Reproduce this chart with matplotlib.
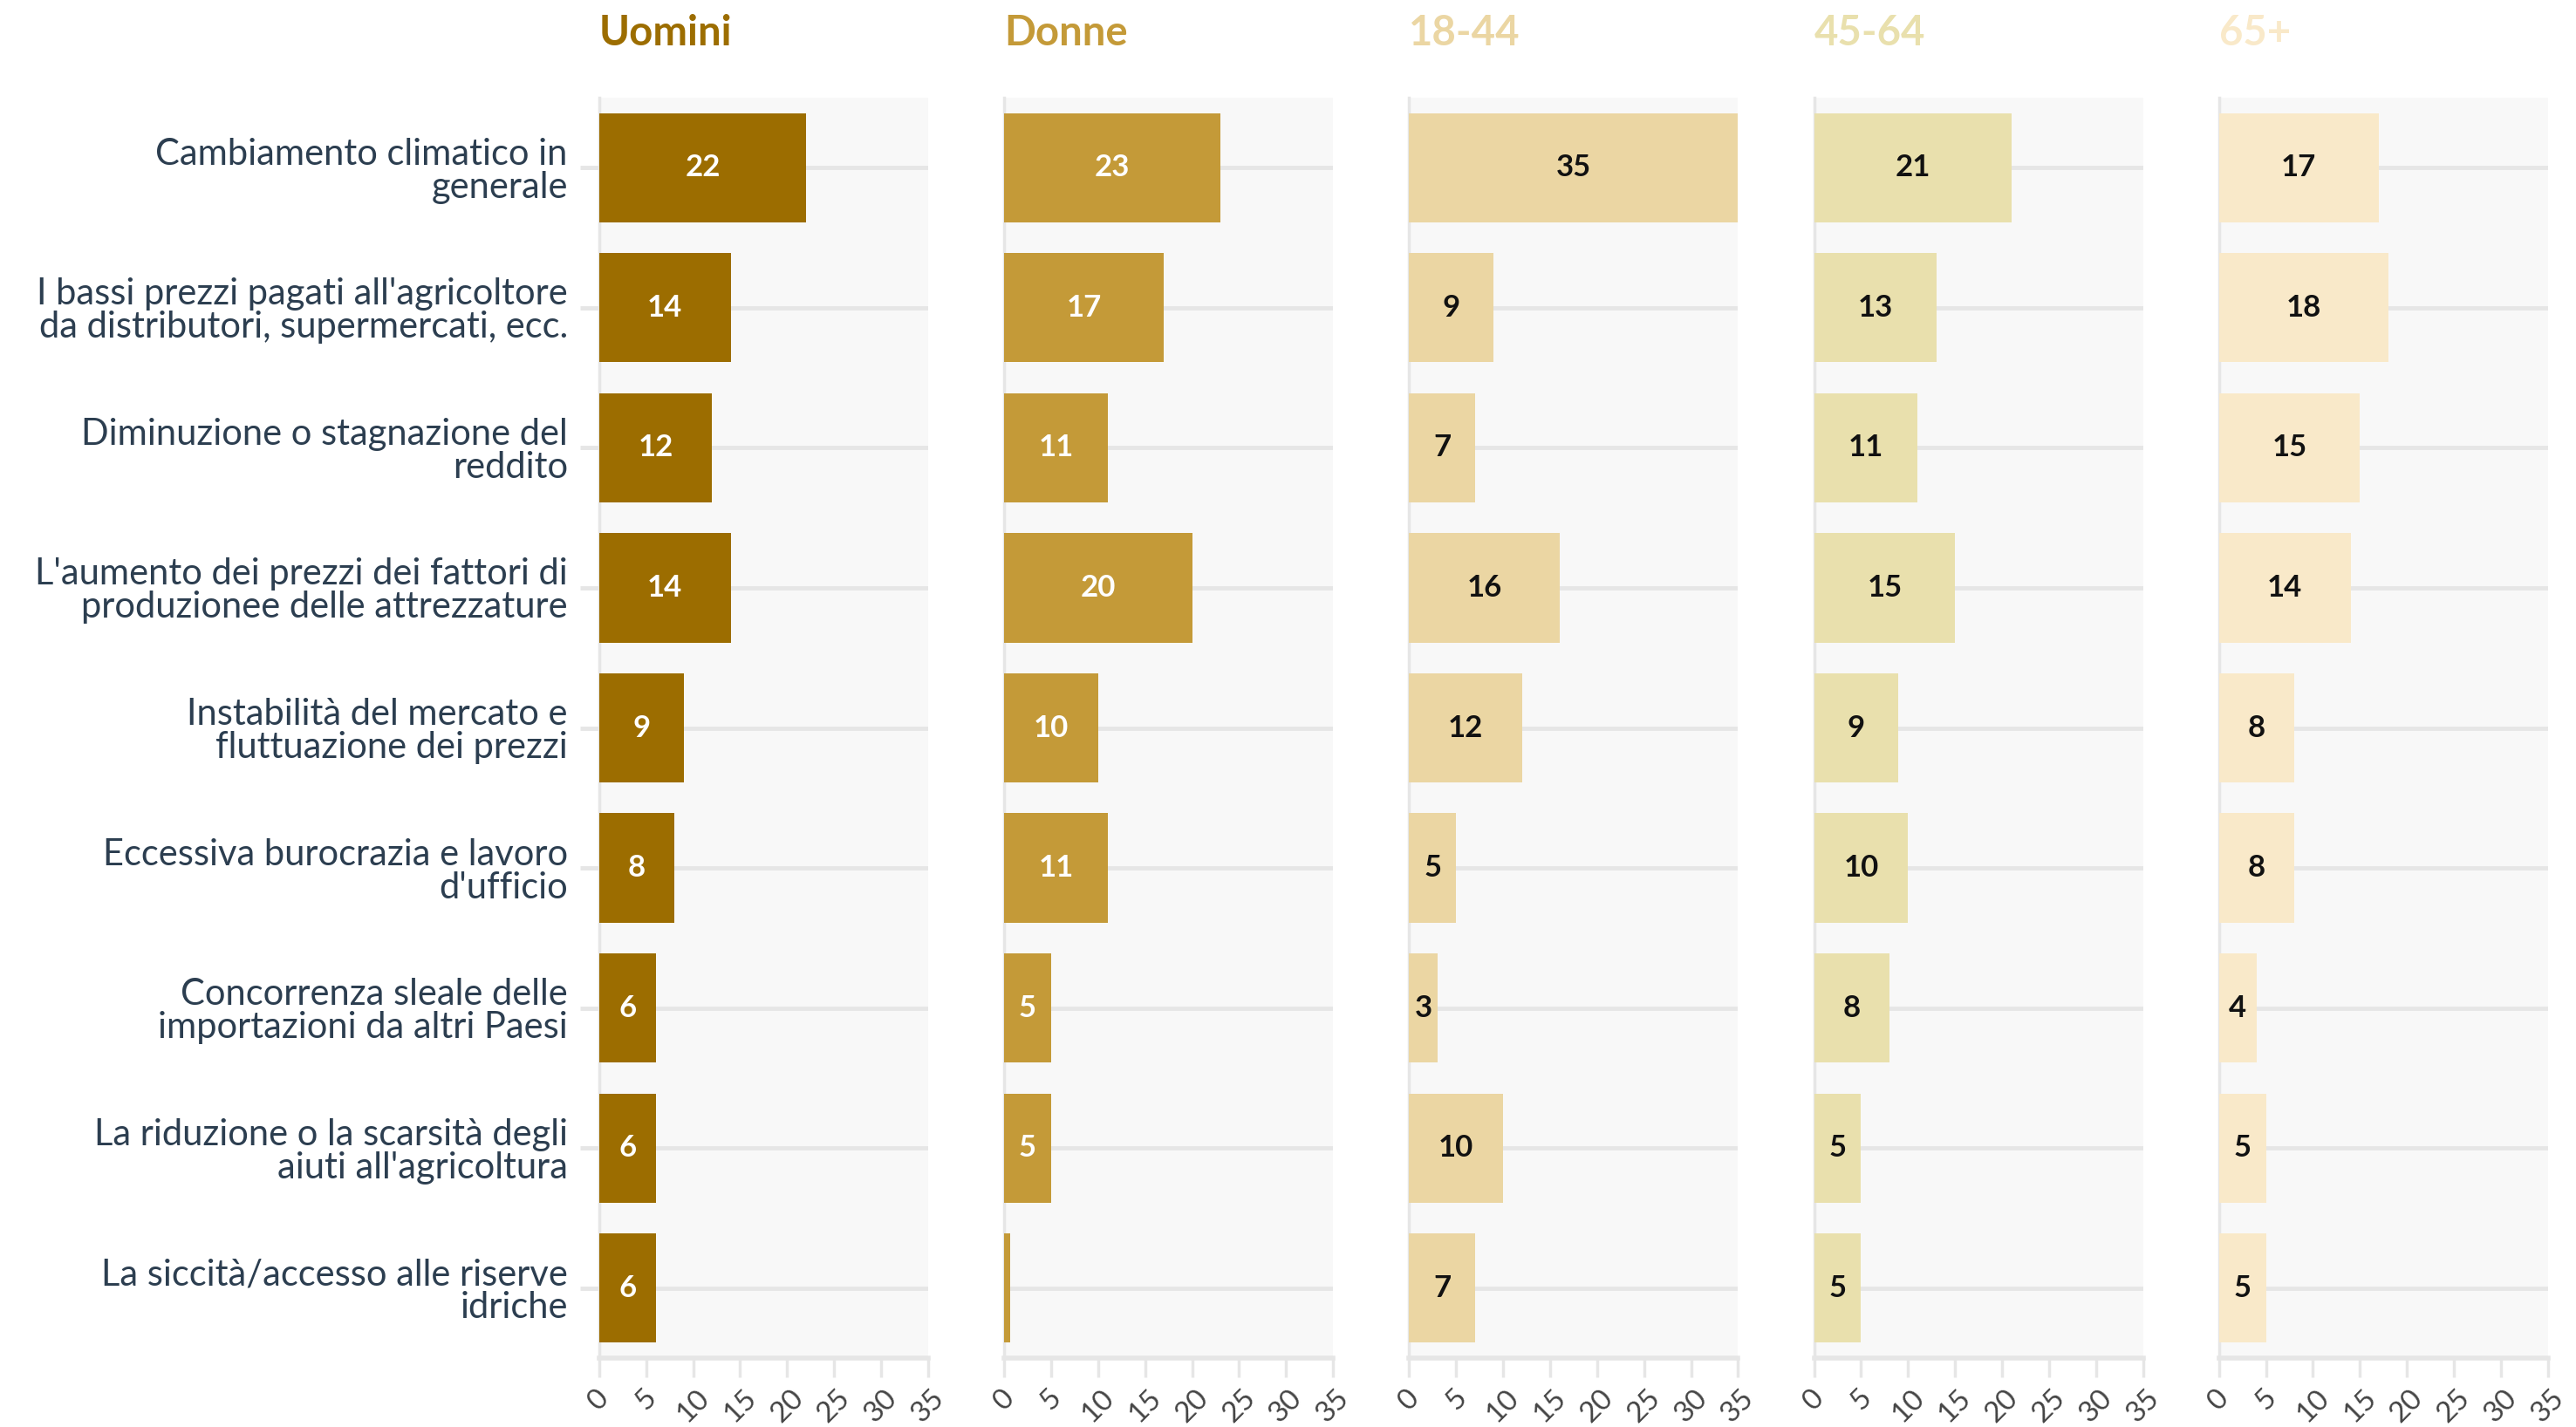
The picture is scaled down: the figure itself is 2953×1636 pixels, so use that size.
import matplotlib
matplotlib.use('Agg')
import matplotlib.pyplot as plt
import numpy as np

plt.rcParams['font.family'] = ['Lato', 'DejaVu Sans']

# dati
categorie = [
    "Cambiamento climatico in\ngenerale",
    "I bassi prezzi pagati all'agricoltore\nda distributori, supermercati, ecc.",
    "Diminuzione o stagnazione del\nreddito",
    "L'aumento dei prezzi dei fattori di\nproduzionee delle attrezzature",
    "Instabilità del mercato e\nfluttuazione dei prezzi",
    "Eccessiva burocrazia e lavoro\nd'ufficio",
    "Concorrenza sleale delle\nimportazioni da altri Paesi",
    "La riduzione o la scarsità degli\naiuti all'agricoltura",
    "La siccità/accesso alle riserve\nidriche",
]
gruppi = ["Uomini", "Donne", "18-44", "45-64", "65+"]
uomini = [22, 14, 12, 14, 9, 8, 6, 6, 6]
donne = [23, 17, 11, 20, 10, 11, 5, 5, 0.6]
eta_18_44 = [35, 9, 7, 16, 12, 5, 3, 10, 7]
eta_45_64 = [21, 13, 11, 15, 9, 10, 8, 5, 5]
eta_65 = [17, 18, 15, 14, 8, 8, 4, 5, 5]
valori = [uomini, donne, eta_18_44, eta_45_64, eta_65]

colori = ['#9c6d00', '#c49a38', '#ebd6a3', '#e9e0ad', '#f9e9c9']
colori_testo = ['white', 'white', '#111111', '#111111', '#111111']
xticks = [0, 5, 10, 15, 20, 25, 30, 35]

fig = plt.figure(figsize=(29.53, 16.36), dpi=100)
y = np.arange(len(categorie))

left0, step, w = 0.2326, 0.1572, 0.1277
bottom, h = 0.0483, 0.8832

for i, (nome, vals, col, tcol) in enumerate(zip(gruppi, valori, colori, colori_testo)):
    ax = fig.add_axes([left0 + i * step, bottom, w, h])
    ax.set_facecolor('#f8f8f8')
    ax.barh(y, vals, height=0.78, color=col, zorder=3)
    ax.set_xlim(0, 35)
    ax.set_ylim(8.5, -0.5)
    ax.set_yticks(y)
    ax.grid(axis='y', color='#e6e6e6', lw=3.5, zorder=1)
    ax.set_axisbelow(True)
    for s in ['top', 'right']:
        ax.spines[s].set_visible(False)
    ax.spines['left'].set_color('#e6e6e6')
    ax.spines['left'].set_linewidth(2.5)
    ax.spines['bottom'].set_color('#e6e6e6')
    ax.spines['bottom'].set_linewidth(4)

    ax.set_xticks(xticks)
    ax.set_xticklabels([str(t) for t in xticks], rotation=45, ha='center', va='top',
                       fontsize=24, color='#444444')
    ax.tick_params(axis='x', length=16, width=2.5, color='#e6e6e6', pad=6)

    if i == 0:
        ax.set_yticklabels(categorie, fontsize=30, color='#2c3e50', linespacing=1.0)
        ax.tick_params(axis='y', length=16, width=3.5, color='#e6e6e6', pad=10)
    else:
        ax.set_yticklabels([])
        ax.tick_params(axis='y', length=0)

    for yy, v in zip(y, vals):
        if v >= 2:
            ax.text(v / 2, yy, str(v), ha='center', va='center', fontsize=25,
                    fontweight='bold', color=tcol, zorder=4)

    fig.text(left0 + i * step, 0.977, nome, color=col, fontsize=34,
             fontweight='bold', ha='left', va='center')

fig.savefig('out.png', dpi=100, facecolor='white')
